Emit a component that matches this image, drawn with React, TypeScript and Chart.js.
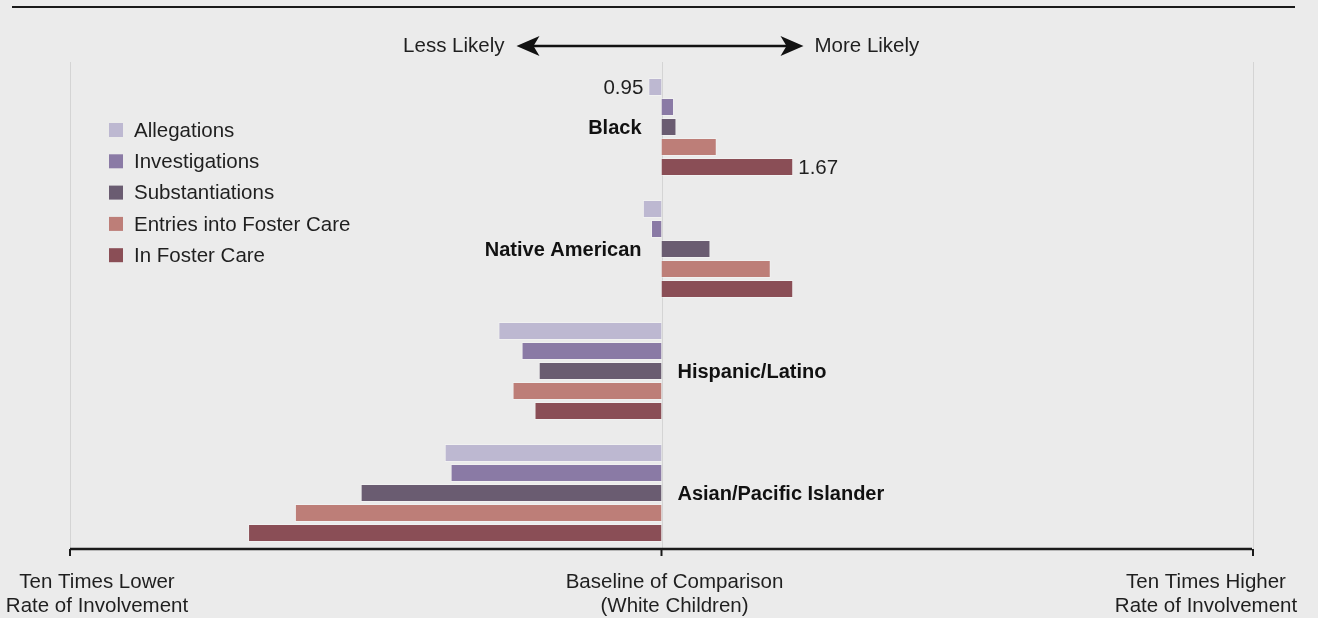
import React, { useEffect, useRef } from "react";
import { Chart, registerables } from "chart.js";

Chart.register(...registerables);

// ---- data ----
const groups = ["Black", "Native American", "Hispanic/Latino", "Asian/Pacific Islander"];
const seriesNames = ["Allegations", "Investigations", "Substantiations", "Entries into Foster Care", "In Foster Care"];
const allegations = [0.95, 0.93, 0.53, 0.43];
const investigations = [1.05, 0.96, 0.58, 0.44];
const substantiations = [1.06, 1.21, 0.62, 0.31];
const entriesIntoCare = [1.24, 1.53, 0.56, 0.24];
const inFosterCare = [1.67, 1.67, 0.61, 0.2];
const seriesColors = ["#bdb8d1", "#8a7aa5", "#6a5c71", "#bd7e78", "#8a4e56"];
const axisTickValues = [0.1, 1, 10];
const axisTickLabels = [
  ["Ten Times Lower", "Rate of Involvement"],
  ["Baseline of Comparison", "(White Children)"],
  ["Ten Times Higher", "Rate of Involvement"],
];
const directionLabels = ["Less Likely", "More Likely"];
// [seriesIndex, groupIndex] of bars annotated with their value
const annotatedBars = [
  [0, 0],
  [4, 0],
];

const FONT = "'Liberation Sans', Arial, Helvetica, sans-serif";
const TEXT = "#1f1f1f";

const decorPlugin = {
  id: "decor",
  beforeDatasetsDraw(chart: any) {
    const { ctx, chartArea, scales } = chart;
    const x = scales.x;
    ctx.save();
    ctx.strokeStyle = "#d4d4d4";
    ctx.lineWidth = 1;
    axisTickValues.forEach((v) => {
      const px = Math.round(x.getPixelForValue(v)) + 0.5;
      ctx.beginPath();
      ctx.moveTo(px, chartArea.top - 4);
      ctx.lineTo(px, chartArea.bottom - 5);
      ctx.stroke();
    });
    ctx.restore();
  },
  afterDatasetsDraw(chart: any) {
    const { ctx, chartArea, scales } = chart;
    const x = scales.x;
    const y = scales.y;
    const basePx = x.getPixelForValue(1);
    ctx.save();

    // top rule
    ctx.strokeStyle = "#1a1a1a";
    ctx.lineWidth = 2;
    ctx.beginPath();
    ctx.moveTo(12, 7);
    ctx.lineTo(1295, 7);
    ctx.stroke();

    // bottom axis line + ticks
    const axisY = chartArea.bottom - 5;
    ctx.beginPath();
    ctx.lineWidth = 2.5;
    ctx.moveTo(chartArea.left, axisY);
    ctx.lineTo(chartArea.right - 1, axisY);
    ctx.stroke();
    ctx.lineWidth = 2;
    axisTickValues.forEach((v) => {
      const px = x.getPixelForValue(v);
      ctx.beginPath();
      ctx.moveTo(px, axisY);
      ctx.lineTo(px, axisY + 7);
      ctx.stroke();
    });

    // axis tick labels
    ctx.fillStyle = TEXT;
    ctx.font = `20.5px ${FONT}`;
    ctx.textBaseline = "middle";
    ctx.textAlign = "center";
    const labelCenters = [97, basePx + 13, 1206];
    axisTickLabels.forEach((lines, i) => {
      lines.forEach((t, j) => {
        ctx.fillText(t, labelCenters[i], 582 + j * 24);
      });
    });

    // direction arrow
    const ay = 46;
    ctx.lineWidth = 2.5;
    ctx.strokeStyle = "#111";
    ctx.fillStyle = "#111";
    const lt = basePx - 145;
    const rt = basePx + 142;
    ctx.beginPath();
    ctx.moveTo(lt + 10, ay);
    ctx.lineTo(rt - 10, ay);
    ctx.stroke();
    ctx.beginPath();
    ctx.moveTo(lt, ay);
    ctx.lineTo(lt + 23, ay - 10);
    ctx.lineTo(lt + 17, ay);
    ctx.lineTo(lt + 23, ay + 10);
    ctx.closePath();
    ctx.fill();
    ctx.beginPath();
    ctx.moveTo(rt, ay);
    ctx.lineTo(rt - 23, ay - 10);
    ctx.lineTo(rt - 17, ay);
    ctx.lineTo(rt - 23, ay + 10);
    ctx.closePath();
    ctx.fill();
    ctx.fillStyle = TEXT;
    ctx.font = `20.5px ${FONT}`;
    ctx.textAlign = "right";
    ctx.fillText(directionLabels[0], lt - 12, ay);
    ctx.textAlign = "left";
    ctx.fillText(directionLabels[1], rt + 11, ay);

    // legend
    ctx.font = `20.5px ${FONT}`;
    ctx.textAlign = "left";
    seriesNames.forEach((name, i) => {
      const cy = 130 + i * 31.3;
      ctx.fillStyle = seriesColors[i];
      ctx.fillRect(109, cy - 7, 14, 14);
      ctx.fillStyle = TEXT;
      ctx.fillText(name, 134, cy + 1);
    });

    // group labels
    ctx.font = `bold 20px ${FONT}`;
    ctx.fillStyle = "#111";
    groups.forEach((g, i) => {
      const cy = y.getPixelForValue(i);
      const positive = inFosterCare[i] >= 1;
      if (positive) {
        ctx.textAlign = "right";
        ctx.fillText(g, basePx - 20, cy + 1);
      } else {
        ctx.textAlign = "left";
        ctx.fillText(g, basePx + 16, cy + 1);
      }
    });

    // value annotations
    ctx.font = `20.5px ${FONT}`;
    ctx.fillStyle = TEXT;
    annotatedBars.forEach(([s, gi]) => {
      const el = chart.getDatasetMeta(s).data[gi];
      const v = chart.data.datasets[s].data[gi] as number;
      const txt = v.toFixed(2);
      if (v < 1) {
        ctx.textAlign = "right";
        ctx.fillText(txt, el.x - 5, el.y + 1);
      } else {
        ctx.textAlign = "left";
        ctx.fillText(txt, el.x + 5, el.y + 1);
      }
    });

    ctx.restore();
  },
};

export default function App() {
  const ref = useRef<HTMLCanvasElement | null>(null);

  useEffect(() => {
    if (!ref.current) return;
    const seriesData = [allegations, investigations, substantiations, entriesIntoCare, inFosterCare];
    const chart = new Chart(ref.current, {
      type: "bar",
      data: {
        labels: groups,
        datasets: seriesNames.map((name, i) => ({
          label: name,
          data: seriesData[i],
          backgroundColor: seriesColors[i],
          borderColor: "rgba(255,255,255,0.3)",
          borderWidth: 1,
          base: 1,
          categoryPercentage: 100 / 122,
          barPercentage: 0.9,
        })),
      },
      options: {
        indexAxis: "y",
        responsive: false,
        animation: false,
        layout: { padding: { left: 70, right: 65, top: 66, bottom: 64 } },
        scales: {
          x: { type: "logarithmic", min: 0.1, max: 10, display: false },
          y: { type: "category", display: false, offset: true },
        },
        plugins: {
          legend: { display: false },
          tooltip: { enabled: false },
        },
      },
      plugins: [decorPlugin],
    } as any);
    return () => chart.destroy();
  }, []);

  return (
    <div
      style={{
        position: "fixed",
        left: 0,
        top: 0,
        width: 1318,
        height: 618,
        background: "#ebebeb",
      }}
    >
      <canvas ref={ref} width={1318} height={618} style={{ display: "block" }} />
    </div>
  );
}
